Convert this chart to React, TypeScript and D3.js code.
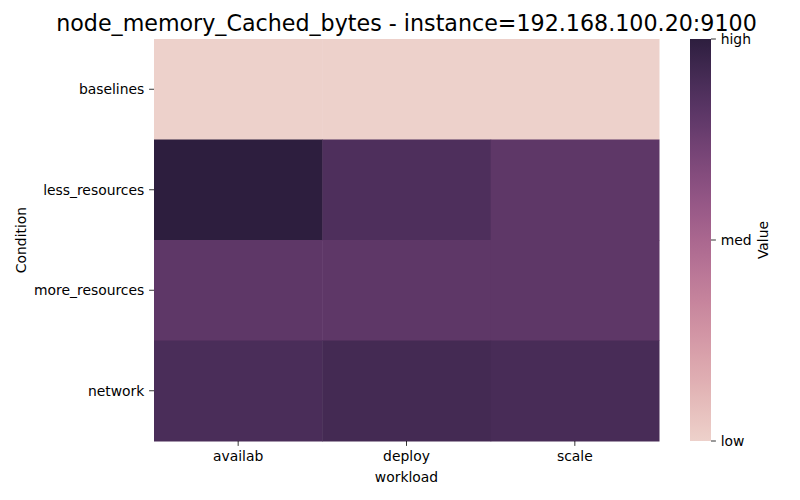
import React from "react";
import * as d3 from "d3";

const conditions = ["baselines", "less_resources", "more_resources", "network"];
const workloads = ["availab", "deploy", "scale"];
// normalized values (0 = low, 1 = high), rows = conditions, cols = workloads
const baselinesValues = [0.0, 0.0, 0.0];
const lessResourcesValues = [1.0, 0.87, 0.81];
const moreResourcesValues = [0.81, 0.81, 0.81];
const networkValues = [0.885, 0.91, 0.895];
const rowsValues = [baselinesValues, lessResourcesValues, moreResourcesValues, networkValues];
const colorbarTicks = [
  { v: 0, label: "low" },
  { v: 0.5, label: "med" },
  { v: 1, label: "high" },
];
const title = "node_memory_Cached_bytes - instance=192.168.100.20:9100";

// seaborn cubehelix_palette(as_cmap=True) defaults
function cubehelixSeaborn(v: number): string {
  const light = 0.85, dark = 0.15, start = 0, rot = 0.4, hue = 0.8, gamma = 1;
  const x = light + (dark - light) * v;
  const xg = Math.pow(x, gamma);
  const a = (hue * xg * (1 - xg)) / 2;
  const phi = 2 * Math.PI * (start / 3 + rot * x);
  const c = Math.cos(phi), s = Math.sin(phi);
  const clip = (t: number) => Math.max(0, Math.min(1, t));
  const r = clip(xg + a * (-0.14861 * c + 1.78277 * s));
  const g = clip(xg + a * (-0.29227 * c - 0.90649 * s));
  const b = clip(xg + a * (1.97294 * c));
  return d3.rgb(r * 255, g * 255, b * 255).formatHex();
}

const FONT = "DejaVu Sans";

export default function App() {
  const W = 800, H = 500;
  const left = 154, right = 659, top = 39, bottom = 441;
  const x = d3.scaleBand<string>().domain(workloads).range([left, right]);
  const y = d3.scaleBand<string>().domain(conditions).range([top, bottom]);
  const cbX0 = 690, cbX1 = 711;
  const cbY = d3.scaleLinear().domain([0, 1]).range([bottom, top]);
  const gradStops = d3.range(0, 1.0001, 1 / 32);

  const cells: { c: string; w: string; v: number }[] = [];
  conditions.forEach((c, i) =>
    workloads.forEach((w, j) => cells.push({ c, w, v: rowsValues[i][j] }))
  );

  const tickFs = 13.9;
  return (
    <svg width={W} height={H} style={{ display: "block", position: "absolute", left: 0, top: 0 }} fontFamily={FONT}>
      <rect x={0} y={0} width={W} height={H} fill="#ffffff" />
      <defs>
        <linearGradient id="cb" x1="0" y1="1" x2="0" y2="0">
          {gradStops.map((t) => (
            <stop key={t} offset={t} stopColor={cubehelixSeaborn(t)} />
          ))}
        </linearGradient>
      </defs>
      {cells.map((d) => (
        <rect
          key={d.c + d.w}
          x={x(d.w)!}
          y={y(d.c)!}
          width={x.bandwidth() + 0.5}
          height={y.bandwidth() + 0.5}
          fill={cubehelixSeaborn(d.v)}
        />
      ))}
      {/* y ticks */}
      {conditions.map((c) => {
        const yy = y(c)! + y.bandwidth() / 2;
        return (
          <g key={c}>
            <line x1={left - 4.9} x2={left} y1={yy} y2={yy} stroke="#000" strokeWidth={0.8} />
            <text x={left - 9.7} y={yy} dy="0.35em" textAnchor="end" fontSize={tickFs} fill="#000">
              {c}
            </text>
          </g>
        );
      })}
      {/* x ticks */}
      {workloads.map((w) => {
        const xx = x(w)! + x.bandwidth() / 2;
        return (
          <g key={w}>
            <line x1={xx} x2={xx} y1={bottom} y2={bottom + 4.9} stroke="#000" strokeWidth={0.8} />
            <text x={xx} y={bottom + 9.7} dy="0.76em" textAnchor="middle" fontSize={tickFs} fill="#000">
              {w}
            </text>
          </g>
        );
      })}
      <text x={(left + right) / 2} y={482} textAnchor="middle" fontSize={tickFs} fill="#000">
        workload
      </text>
      <text
        transform={`translate(${26},${(top + bottom) / 2}) rotate(-90)`}
        textAnchor="middle"
        fontSize={tickFs}
        fill="#000"
      >
        Condition
      </text>
      <text x={(left + right) / 2} y={31} textAnchor="middle" fontSize={22.2} fill="#000">
        {title}
      </text>
      {/* colorbar */}
      <rect x={cbX0} y={top} width={cbX1 - cbX0} height={bottom - top} fill="url(#cb)" />
      {colorbarTicks.map((t) => {
        const yy = cbY(t.v);
        return (
          <g key={t.label}>
            <line x1={cbX1} x2={cbX1 + 4.9} y1={yy} y2={yy} stroke="#000" strokeWidth={0.8} />
            <text x={cbX1 + 9.7} y={yy} dy="0.35em" fontSize={tickFs} fill="#000">
              {t.label}
            </text>
          </g>
        );
      })}
      <text
        transform={`translate(${768},${(top + bottom) / 2}) rotate(-90)`}
        textAnchor="middle"
        fontSize={tickFs}
        fill="#000"
      >
        Value
      </text>
    </svg>
  );
}
